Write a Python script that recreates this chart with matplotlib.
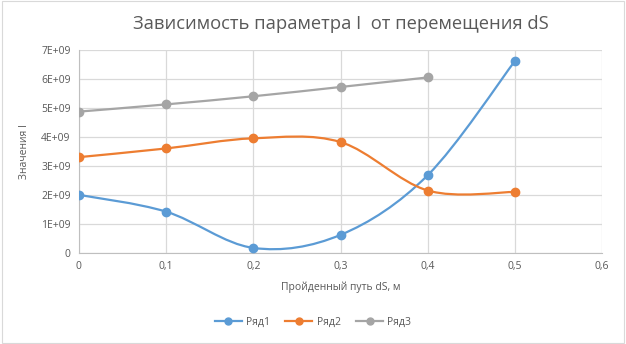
import numpy as np
import matplotlib.pyplot as plt
from matplotlib.path import Path
from matplotlib.patches import PathPatch, Rectangle
from matplotlib.lines import Line2D
from matplotlib.ticker import FuncFormatter

plt.rcParams['font.family'] = ['Open Sans', 'DejaVu Sans']

# данные
x1 = [0, 0.1, 0.2, 0.3, 0.4, 0.5]
y1 = [2.0e9, 1.42e9, 0.17e9, 0.62e9, 2.68e9, 6.62e9]
x2 = [0, 0.1, 0.2, 0.3, 0.4, 0.5]
y2 = [3.3e9, 3.6e9, 3.95e9, 3.82e9, 2.15e9, 2.1e9]
x3 = [0, 0.1, 0.2, 0.3, 0.4]
y3 = [4.87e9, 5.12e9, 5.4e9, 5.72e9, 6.05e9]
names = ['Ряд1', 'Ряд2', 'Ряд3']
colors = ['#5b9bd5', '#ed7d31', '#a5a5a5']
xticks = [0, 0.1, 0.2, 0.3, 0.4, 0.5, 0.6]
yticks = [0, 1e9, 2e9, 3e9, 4e9, 5e9, 6e9, 7e9]


def smooth_path(xs, ys, t=1/6):
    # сглаженная линия как в Excel (безье по соседним точкам)
    xs = np.asarray(xs, float)
    ys = np.asarray(ys, float)
    n = len(xs)
    verts = [(xs[0], ys[0])]
    codes = [Path.MOVETO]
    for i in range(n - 1):
        p0 = i - 1 if i > 0 else i
        p3 = i + 2 if i + 2 < n else i + 1
        c1 = (xs[i] + (xs[i + 1] - xs[p0]) * t, ys[i] + (ys[i + 1] - ys[p0]) * t)
        c2 = (xs[i + 1] - (xs[p3] - xs[i]) * t, ys[i + 1] - (ys[p3] - ys[i]) * t)
        verts += [c1, c2, (xs[i + 1], ys[i + 1])]
        codes += [Path.CURVE4] * 3
    return Path(verts, codes)


fig = plt.figure(figsize=(6.26, 3.44), dpi=100)
ax = fig.add_axes([0.126, 0.265, 0.836, 0.59])

for xs, ys, c in zip([x1, x2, x3], [y1, y2, y3], colors):
    ax.add_patch(PathPatch(smooth_path(xs, ys), fill=False, edgecolor=c, lw=1.6, zorder=3))
    ax.plot(xs, ys, 'o', color=c, ms=6, zorder=4)

ax.set_xlim(0, 0.6)
ax.set_ylim(0, 7e9)
ax.set_xticks(xticks)
ax.set_yticks(yticks)
ax.xaxis.set_major_formatter(FuncFormatter(lambda v, p: '0' if v == 0 else ('%g' % round(v, 1)).replace('.', ',')))
ax.yaxis.set_major_formatter(FuncFormatter(lambda v, p: '0' if v == 0 else '%dE+09' % round(v / 1e9)))
ax.grid(True, color='#d9d9d9', lw=0.9)
ax.set_axisbelow(True)
for s in ['top', 'right']:
    ax.spines[s].set_visible(False)
for s in ['left', 'bottom']:
    ax.spines[s].set_color('#bfbfbf')
ax.tick_params(length=0, labelsize=7.5, colors='#595959', pad=6)

ax.set_title('Зависимость параметра I  от перемещения dS', fontsize=13.2, color='#595959', pad=15)
ax.set_xlabel('Пройденный путь dS, м', fontsize=7.5, color='#595959', labelpad=7)
ax.set_ylabel('Значения I', fontsize=7.5, color='#595959', labelpad=8)

handles = [Line2D([], [], color=c, marker='o', ms=5, lw=1.6) for c in colors]
fig.legend(handles, names, loc='center', bbox_to_anchor=(0.5, 0.063), ncol=3, frameon=False,
           fontsize=7.5, labelcolor='#595959', handlelength=2.6, columnspacing=1.5, handletextpad=0.4)

fig.patches.append(Rectangle((0.003, 0.003), 0.994, 0.994, transform=fig.transFigure,
                             fill=False, edgecolor='#d9d9d9', lw=0.8))

fig.savefig('out.png', dpi=100)
